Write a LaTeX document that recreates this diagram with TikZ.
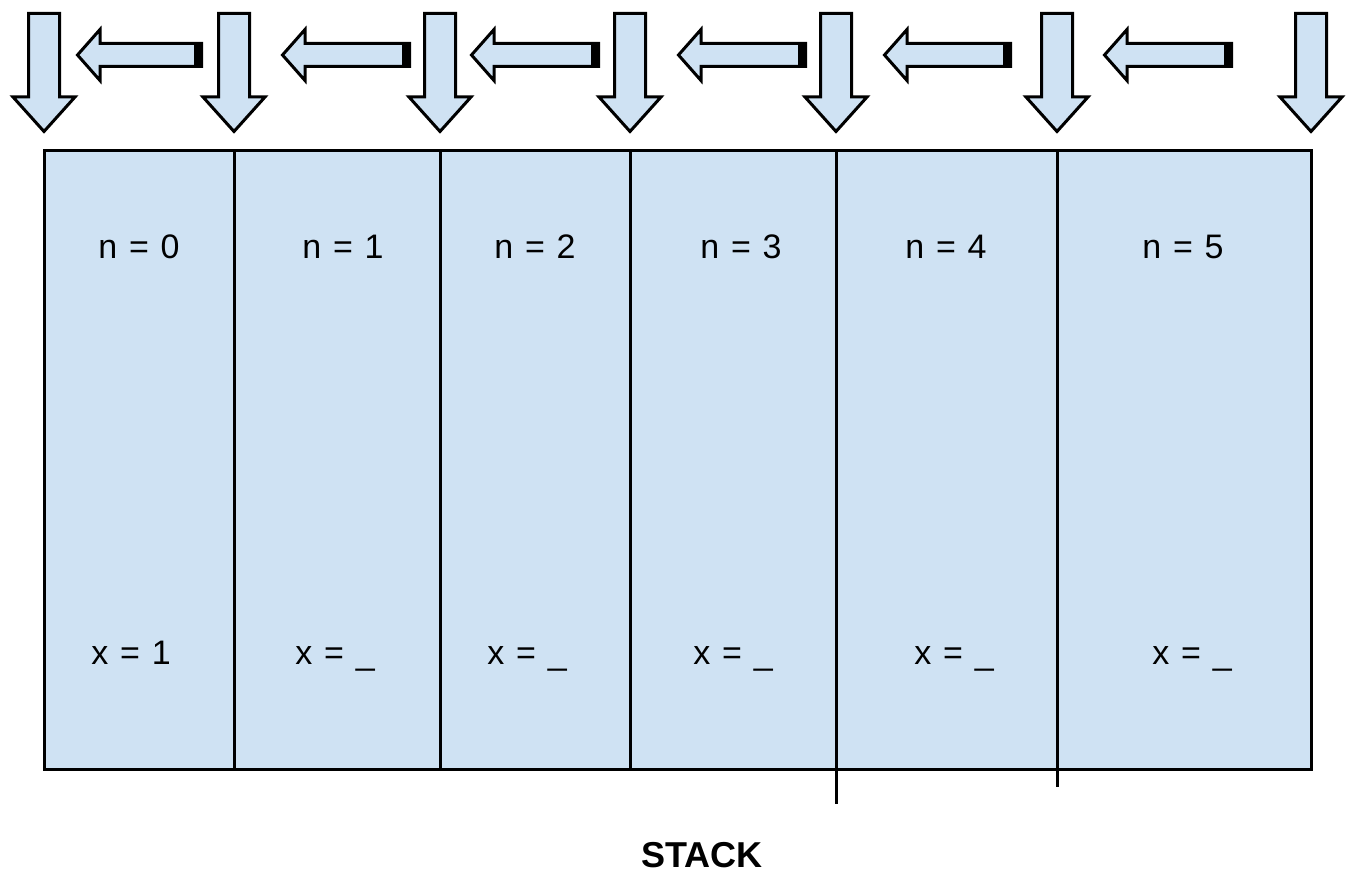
\documentclass[tikz,border=0pt]{standalone}
\usepackage{fontspec}
\setmainfont{Liberation Sans}
\newfontfamily\widefont[WordSpace=1.25]{Liberation Sans}
\definecolor{cellblue}{HTML}{CFE2F3}
\tikzset{
  cell/.style={draw=black, line width=3pt, fill=cellblue, rectangle, inner sep=0pt, outer sep=0pt, anchor=north west, minimum height=619pt},
  lbl/.style={font=\widefont\fontsize{34}{40}\selectfont, inner sep=0pt, anchor=base},
  title/.style={font=\fontsize{36}{42}\selectfont\bfseries, inner sep=0pt, anchor=base},
  arrowshape/.style={draw=black, line width=3pt, fill=cellblue, line join=miter},
  tick/.style={draw=black, line width=3pt},
  pics/downarrow/.style={code={
    \path[arrowshape] (-15.5,13.5) -- (15.5,13.5) -- (15.5,97) -- (31,97) -- (0,131.5) -- (-31,97) -- (-15.5,97) -- cycle;
  }},
  pics/leftarrow/.style={code={
    % local origin = tip; #1 = length
    \path[arrowshape] (1.5,55) -- (24,29.5) -- (24,43.5) -- (#1-1.5,43.5) -- (#1-1.5,66.5) -- (24,66.5) -- (24,80.5) -- cycle;
    \fill[black] (#1-9,43.5) rectangle (#1-1.5,66.5);
  }}
}
\begin{document}
\begin{tikzpicture}[x=1pt,y=-1pt]
\useasboundingbox (0,0) rectangle (1353,875);
% cells
\node[cell, minimum width=190pt] (c0) at (44,150) {};
\node[cell, minimum width=206pt] (c1) at (234,150) {};
\node[cell, minimum width=190pt] (c2) at (440,150) {};
\node[cell, minimum width=206pt] (c3) at (630,150) {};
\node[cell, minimum width=221pt] (c4) at (836,150) {};
\node[cell, minimum width=254pt] (c5) at (1057,150) {};
% ticks below
\coordinate (t4) at (836,804);
\coordinate (t5) at (1057,787);
\draw[tick] (c4.south west) -- (t4);
\draw[tick] (c5.south west) -- (t5);
% labels
\node[lbl] (n0) at (139,258) {n = 0};
\node[lbl] (n1) at (343,258) {n = 1};
\node[lbl] (n2) at (535,258) {n = 2};
\node[lbl] (n3) at (741,258) {n = 3};
\node[lbl] (n4) at (946,258) {n = 4};
\node[lbl] (n5) at (1183,258) {n = 5};
\node[lbl] (x0) at (131,664) {x = 1};
\node[lbl] (x1) at (335,664) {x = \_};
\node[lbl] (x2) at (527,664) {x = \_};
\node[lbl] (x3) at (733,664) {x = \_};
\node[lbl] (x4) at (954,664) {x = \_};
\node[lbl] (x5) at (1192,664) {x = \_};
\node[title] (stack) at (702,867) {STACK};
% down arrows
\foreach \cx/\nm in {44/d0,234/d1,440/d2,630/d3,836/d4,1057/d5,1311/d6}
  \pic (\nm) at (\cx,0) {downarrow};
% left arrows
\pic (l1) at (76,0) {leftarrow=127};
\pic (l2) at (281,0) {leftarrow=130};
\pic (l3) at (470,0) {leftarrow=130};
\pic (l4) at (677,0) {leftarrow=130};
\pic (l5) at (883,0) {leftarrow=129};
\pic (l6) at (1103,0) {leftarrow=130};
\end{tikzpicture}
\end{document}
